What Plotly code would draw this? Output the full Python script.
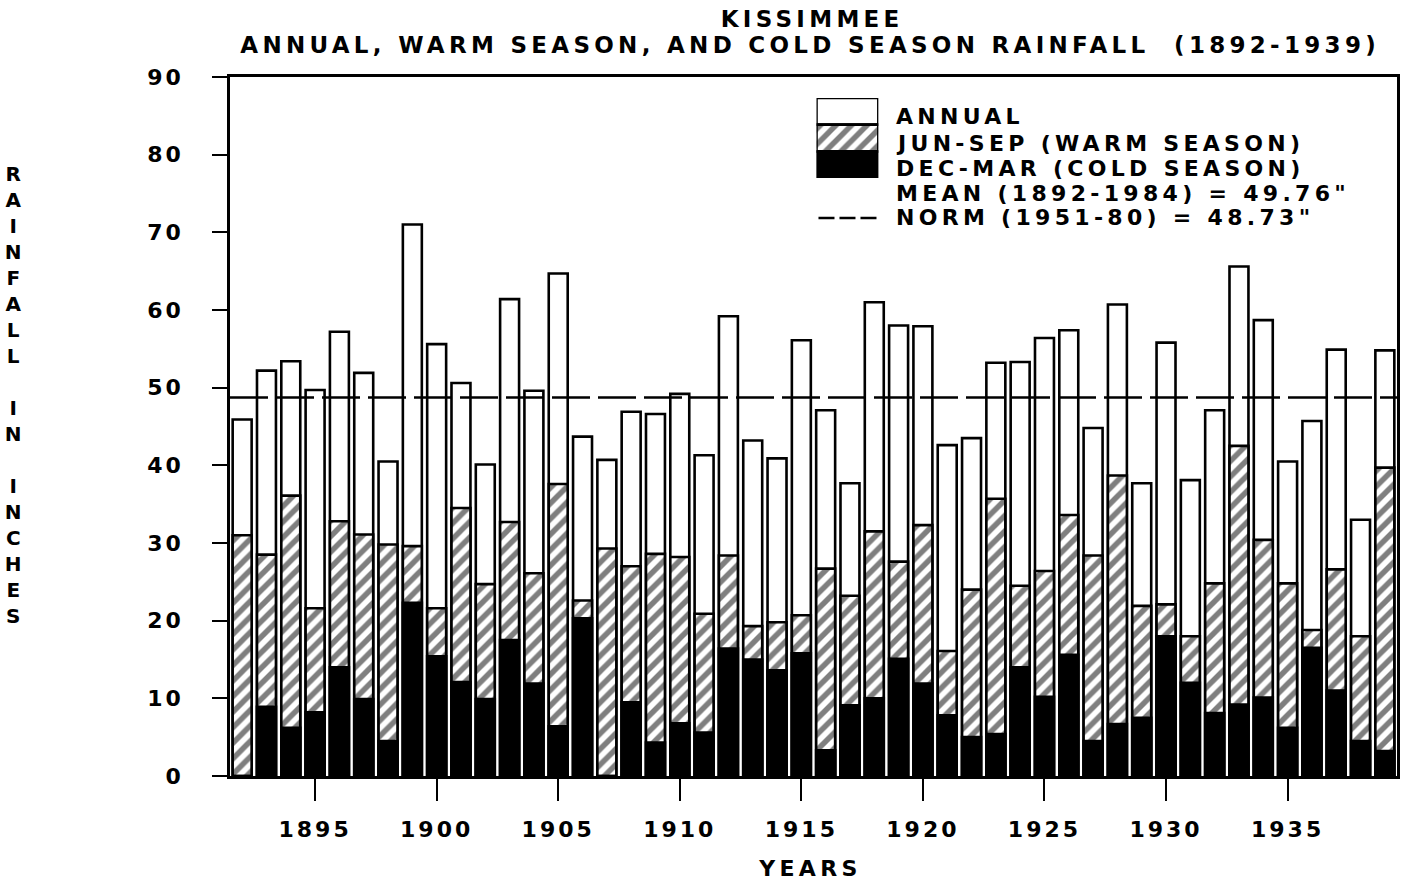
import plotly.graph_objects as go

# Kissimmee rainfall, inches, 1892-1939
years = list(range(1892, 1940))
annual = [45.9, 52.2, 53.4, 49.7, 57.2, 51.9, 40.5, 71.0, 55.6, 50.6,
          40.1, 61.4, 49.6, 64.7, 43.7, 40.7, 46.9, 46.6, 49.2, 41.3,
          59.2, 43.2, 40.9, 56.1, 47.1, 37.7, 61.0, 58.0, 57.9, 42.6,
          43.5, 53.2, 53.3, 56.4, 57.4, 44.8, 60.7, 37.7, 55.8, 38.1,
          47.1, 65.6, 58.7, 40.5, 45.7, 54.9, 33.0, 54.8]
warm_season = [31.0, 28.5, 36.1, 21.6, 32.8, 31.1, 29.8, 29.6, 21.6, 34.5,
               24.7, 32.7, 26.1, 37.6, 22.6, 29.3, 27.0, 28.6, 28.2, 20.9,
               28.4, 19.3, 19.8, 20.7, 26.7, 23.2, 31.5, 27.6, 32.3, 16.1,
               24.0, 35.7, 24.5, 26.4, 33.6, 28.4, 38.7, 21.9, 22.1, 18.0,
               24.8, 42.5, 30.4, 24.8, 18.8, 26.6, 18.0, 39.7]
cold_season = [0.0, 8.9, 6.2, 8.2, 14.0, 9.9, 4.5, 22.3, 15.4, 12.1,
               9.9, 17.5, 11.9, 6.4, 20.3, 0.0, 9.5, 4.3, 6.8, 5.6,
               16.4, 15.0, 13.6, 15.8, 3.3, 9.1, 10.0, 15.1, 11.9, 7.8,
               5.0, 5.4, 14.0, 10.2, 15.6, 4.5, 6.7, 7.5, 18.0, 12.0,
               8.1, 9.2, 10.1, 6.2, 16.5, 11.0, 4.5, 3.2]
norm_value = 48.73
x_ticks = [1895, 1900, 1905, 1910, 1915, 1920, 1925, 1930, 1935]
y_ticks = [0, 10, 20, 30, 40, 50, 60, 70, 80, 90]

legend_labels = ["ANNUAL",
                 "JUN-SEP (WARM SEASON)",
                 "DEC-MAR (COLD SEASON)",
                 'MEAN (1892-1984) = 49.76"',
                 'NORM (1951-80) = 48.73"']

W, H = 1405, 884
ML, MR, MT, MB = 230, 5, 77, 108
PW, PH = W - ML - MR, H - MT - MB


def px(x):
    return (x - ML) / PW


def py(y):
    return (H - MB - y) / PH


FONT = "DejaVu Sans"
BLACK = "#000000"
hatch = dict(shape="/", fgcolor=BLACK, bgcolor="white", size=11, solidity=0.5)
bar_line = dict(color=BLACK, width=2.6)
BAR_W = 0.78

fig = go.Figure()
fig.add_trace(go.Bar(x=years, y=annual, width=BAR_W, name="ANNUAL",
                     marker=dict(color="white", line=bar_line)))
fig.add_trace(go.Bar(x=years, y=warm_season, width=BAR_W, name="JUN-SEP",
                     marker=dict(color="white", pattern=hatch, line=bar_line)))
fig.add_trace(go.Bar(x=years, y=cold_season, width=BAR_W, name="DEC-MAR",
                     marker=dict(color=BLACK, line=bar_line)))
fig.add_trace(go.Scatter(x=[1891.5, 1939.5], y=[norm_value, norm_value],
                         mode="lines", line=dict(color=BLACK, width=2.6, dash="38px,8px"),
                         hoverinfo="skip"))

# legend swatches: a small stacked key on its own hidden axes
for base, kw in [(2, dict(color="white", line=bar_line)),
                 (1, dict(color="white", pattern=hatch, line=bar_line)),
                 (0, dict(color=BLACK, line=bar_line))]:
    fig.add_trace(go.Bar(x=[0.5], y=[1], base=[base], width=[1], marker=kw,
                         xaxis="x2", yaxis="y2", hoverinfo="skip"))

tick_font = dict(family=FONT, size=22, color=BLACK, weight="bold")
fig.update_layout(
    width=W, height=H,
    margin=dict(l=ML, r=MR, t=MT, b=MB),
    paper_bgcolor="white", plot_bgcolor="white",
    barmode="overlay", showlegend=False,
    xaxis=dict(range=[1891.5, 1939.5], tickvals=x_ticks, ticks="outside",
               ticklen=22, tickwidth=2.2, tickcolor=BLACK, showline=True,
               linecolor=BLACK, linewidth=2.6, mirror=True, showgrid=False,
               zeroline=False, tickfont=tick_font, ticklabelstandoff=10),
    yaxis=dict(range=[0, 90], tickvals=y_ticks, ticks="outside",
               ticklen=15, tickwidth=2.2, tickcolor=BLACK, showline=True,
               linecolor=BLACK, linewidth=2.6, mirror=True, showgrid=False,
               zeroline=False, tickfont=tick_font, ticklabelstandoff=24),
    xaxis2=dict(domain=[px(818), px(880)], range=[0, 1], anchor="y2",
                visible=False, fixedrange=True),
    yaxis2=dict(domain=[py(178), py(98)], range=[0, 3], anchor="x2",
                visible=False, fixedrange=True),
)

title_font = dict(family=FONT, size=23, color=BLACK, weight="bold")
text_font = dict(family=FONT, size=22, color=BLACK, weight="bold")
side_font = dict(family=FONT, size=20, color=BLACK, weight="bold")
anns = [
    dict(text="KISSIMMEE", x=px(813), y=py(19), font=title_font),
    dict(text="ANNUAL, WARM SEASON, AND COLD SEASON RAINFALL&nbsp;&nbsp;(1892-1939)",
         x=px(811), y=py(45), font=title_font),
    dict(text="YEARS", x=px(811), y=py(868), font=text_font),
    dict(text="<br>".join(list("RAINFALL") + ["&nbsp;"] + list("IN") + ["&nbsp;"] + list("INCHES")),
         x=px(15), y=py(395), font=side_font),
]
for a in anns:
    fig.add_annotation(xref="paper", yref="paper", showarrow=False,
                       xanchor="center", yanchor="middle", **a)

for label, yc in zip(legend_labels, [117, 143, 168, 193, 218]):
    fig.add_annotation(xref="paper", yref="paper", showarrow=False, text=label,
                       x=px(896), y=py(yc), xanchor="left", yanchor="middle",
                       align="left", font=text_font)

fig.add_shape(type="line", xref="paper", yref="paper",
              x0=px(820), x1=px(881), y0=py(218), y1=py(218),
              line=dict(color=BLACK, width=2.6, dash="16px,5px"))

spacing_css = """
var st = document.createElement('style');
st.textContent = '.xtick text, .ytick text {letter-spacing: 3px;} .annotation-text {letter-spacing: 4.3px;}';
document.head.appendChild(st);
"""
fig.write_html("out.html", post_script=spacing_css)
